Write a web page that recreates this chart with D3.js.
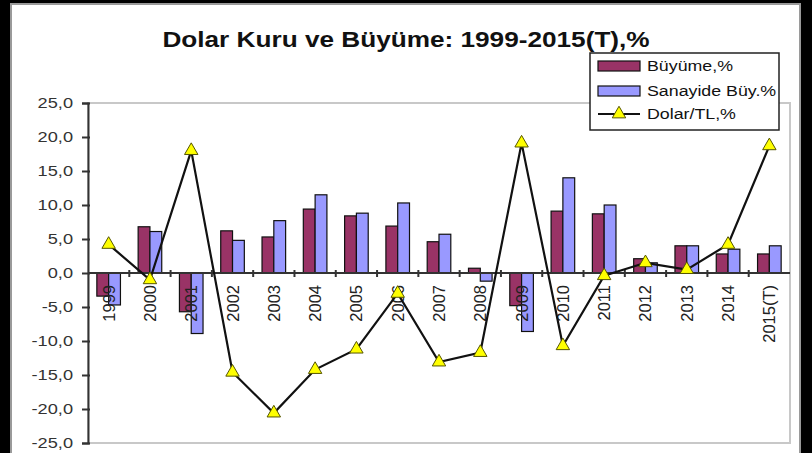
<!DOCTYPE html>
<html>
<head>
<meta charset="utf-8">
<script src="https://cdn.jsdelivr.net/npm/d3@7"></script>
<style>
  body { margin: 0; background: #000; }
  text { font-family: "Liberation Sans", Arial, sans-serif; }
</style>
</head>
<body>
<script>
// data
var years = ["1999","2000","2001","2002","2003","2004","2005","2006","2007","2008","2009","2010","2011","2012","2013","2014","2015(T)"];
var buyume = [-3.4, 6.8, -5.7, 6.2, 5.3, 9.4, 8.4, 6.9, 4.6, 0.7, -4.8, 9.1, 8.7, 2.1, 4.0, 2.8, 2.8];
var sanayi = [-4.7, 6.1, -8.9, 4.8, 7.7, 11.5, 8.8, 10.3, 5.7, -1.2, -8.6, 14.0, 10.0, 1.5, 4.0, 3.5, 4.0];
var dolar = [4.2, -1.0, 18.0, -14.6, -20.6, -14.2, -11.2, -3.0, -13.1, -11.7, 19.1, -10.7, -0.4, 1.5, 0.5, 4.2, 18.7];
var yTicks = [-25, -20, -15, -10, -5, 0, 5, 10, 15, 20, 25];
var seriesNames = ["Büyüme,%", "Sanayide Büy.%", "Dolar/TL,%"];

var W = 812, H = 453;
var svg = d3.select("body").append("svg").attr("width", W).attr("height", H);

svg.append("rect").attr("width", W).attr("height", H).attr("fill", "#000");
svg.append("rect").attr("x", 11).attr("y", 4).attr("width", 789).attr("height", 470)
    .attr("fill", "#fff").attr("stroke", "#9a9a9a").attr("stroke-width", 2);

// little helper: text stretched wide like the scanned original
function wideText(g, x, y, str, size, sx, anchor, weight) {
    return g.append("text")
        .attr("transform", "translate(" + x + "," + y + ") scale(" + sx + ",1)")
        .attr("text-anchor", anchor)
        .attr("font-size", size)
        .attr("font-weight", weight || "normal")
        .attr("fill", "#111")
        .text(str);
}

wideText(svg, 406, 47, "Dolar Kuru ve Büyüme: 1999-2015(T),%", 22, 1.19, "middle", "bold");

var pLeft = 88, pRight = 790, pTop = 103, pBottom = 443;

var x0 = d3.scaleBand().domain(years).range([pLeft, pRight]).padding(0);
var x1 = d3.scaleBand().domain([0, 1]).range([0, x0.bandwidth()]).paddingInner(0).paddingOuter(0.75);
var y = d3.scaleLinear().domain([-25, 25]).range([pBottom, pTop]);

// plot frame
svg.append("rect").attr("x", pLeft).attr("y", pTop).attr("width", pRight - pLeft).attr("height", pBottom - pTop)
    .attr("fill", "none").attr("stroke", "#c8c8c8").attr("stroke-width", 2);

// y axis
var fmt = function(d) { return d3.format(".1f")(d).replace(".", ",").replace("−", "-"); };
var yAxis = svg.append("g").attr("transform", "translate(" + pLeft + ",0)")
    .call(d3.axisLeft(y).tickValues(yTicks).tickSize(6).tickPadding(9).tickFormat(fmt));
yAxis.select(".domain").attr("stroke", "#333").attr("stroke-width", 2);
yAxis.selectAll(".tick line").attr("x1", 2).attr("stroke", "#333").attr("stroke-width", 2);
yAxis.selectAll(".tick text").remove();
yTicks.forEach(function(t) {
    wideText(svg, pLeft - 15, y(t) + 5, fmt(t), 14, 1.3, "end").attr("fill", "#333");
});

// bars
var bars = svg.append("g");
[buyume, sanayi].forEach(function(vals, si) {
    bars.selectAll(".b" + si).data(vals).enter().append("rect")
        .attr("x", function(d, i) { return x0(years[i]) + x1(si); })
        .attr("width", x1.bandwidth())
        .attr("y", function(d) { return y(Math.max(0, d)); })
        .attr("height", function(d) { return Math.abs(y(d) - y(0)); })
        .attr("fill", si == 0 ? "#993366" : "#9999ff")
        .attr("stroke", "#111").attr("stroke-width", 1.2);
});

// x axis on zero line
var y0 = y(0);
svg.append("line").attr("x1", pLeft).attr("x2", pRight).attr("y1", y0).attr("y2", y0)
    .attr("stroke", "#333").attr("stroke-width", 2);
svg.selectAll(".xt").data(years.slice(1)).enter().append("line")
    .attr("x1", function(d) { return x0(d); }).attr("x2", function(d) { return x0(d); })
    .attr("y1", y0 - 3).attr("y2", y0 + 4).attr("stroke", "#333").attr("stroke-width", 2);
svg.selectAll(".xl").data(years).enter().append("text")
    .attr("transform", function(d) { return "translate(" + (x0(d) + x0.bandwidth() / 2 + 6) + "," + (y0 + 12) + ") rotate(-90)"; })
    .attr("text-anchor", "end").attr("font-size", 16.5).attr("fill", "#222")
    .text(function(d) { return d; });

// dollar line
var line = d3.line().x(function(d, i) { return x0(years[i]) + x0.bandwidth() / 2; }).y(function(d) { return y(d); });
svg.append("path").datum(dolar).attr("d", line).attr("fill", "none").attr("stroke", "#111").attr("stroke-width", 2.2);
var tri = d3.symbol().type(d3.symbolTriangle).size(78);
svg.selectAll(".m").data(dolar).enter().append("path")
    .attr("d", tri)
    .attr("transform", function(d, i) { return "translate(" + (x0(years[i]) + x0.bandwidth() / 2) + "," + y(d) + ")"; })
    .attr("fill", "#ffff00").attr("stroke", "#555500").attr("stroke-width", 1);

// legend
var lg = svg.append("g");
lg.append("rect").attr("x", 590).attr("y", 53).attr("width", 189).attr("height", 77)
    .attr("fill", "#fff").attr("stroke", "#222").attr("stroke-width", 1.5);
var ly = [66, 91, 114];
lg.append("rect").attr("x", 598).attr("y", ly[0] - 5).attr("width", 42).attr("height", 10)
    .attr("fill", "#993366").attr("stroke", "#111").attr("stroke-width", 1.2);
lg.append("rect").attr("x", 598).attr("y", ly[1] - 5).attr("width", 42).attr("height", 10)
    .attr("fill", "#9999ff").attr("stroke", "#111").attr("stroke-width", 1.2);
lg.append("line").attr("x1", 598).attr("x2", 640).attr("y1", ly[2]).attr("y2", ly[2])
    .attr("stroke", "#111").attr("stroke-width", 2);
lg.append("path").attr("d", tri).attr("transform", "translate(619," + ly[2] + ")")
    .attr("fill", "#ffff00").attr("stroke", "#555500");
seriesNames.forEach(function(n, i) {
    wideText(lg, 647, ly[i] + 5, n, 14, 1.27, "start");
});
</script>
</body>
</html>
